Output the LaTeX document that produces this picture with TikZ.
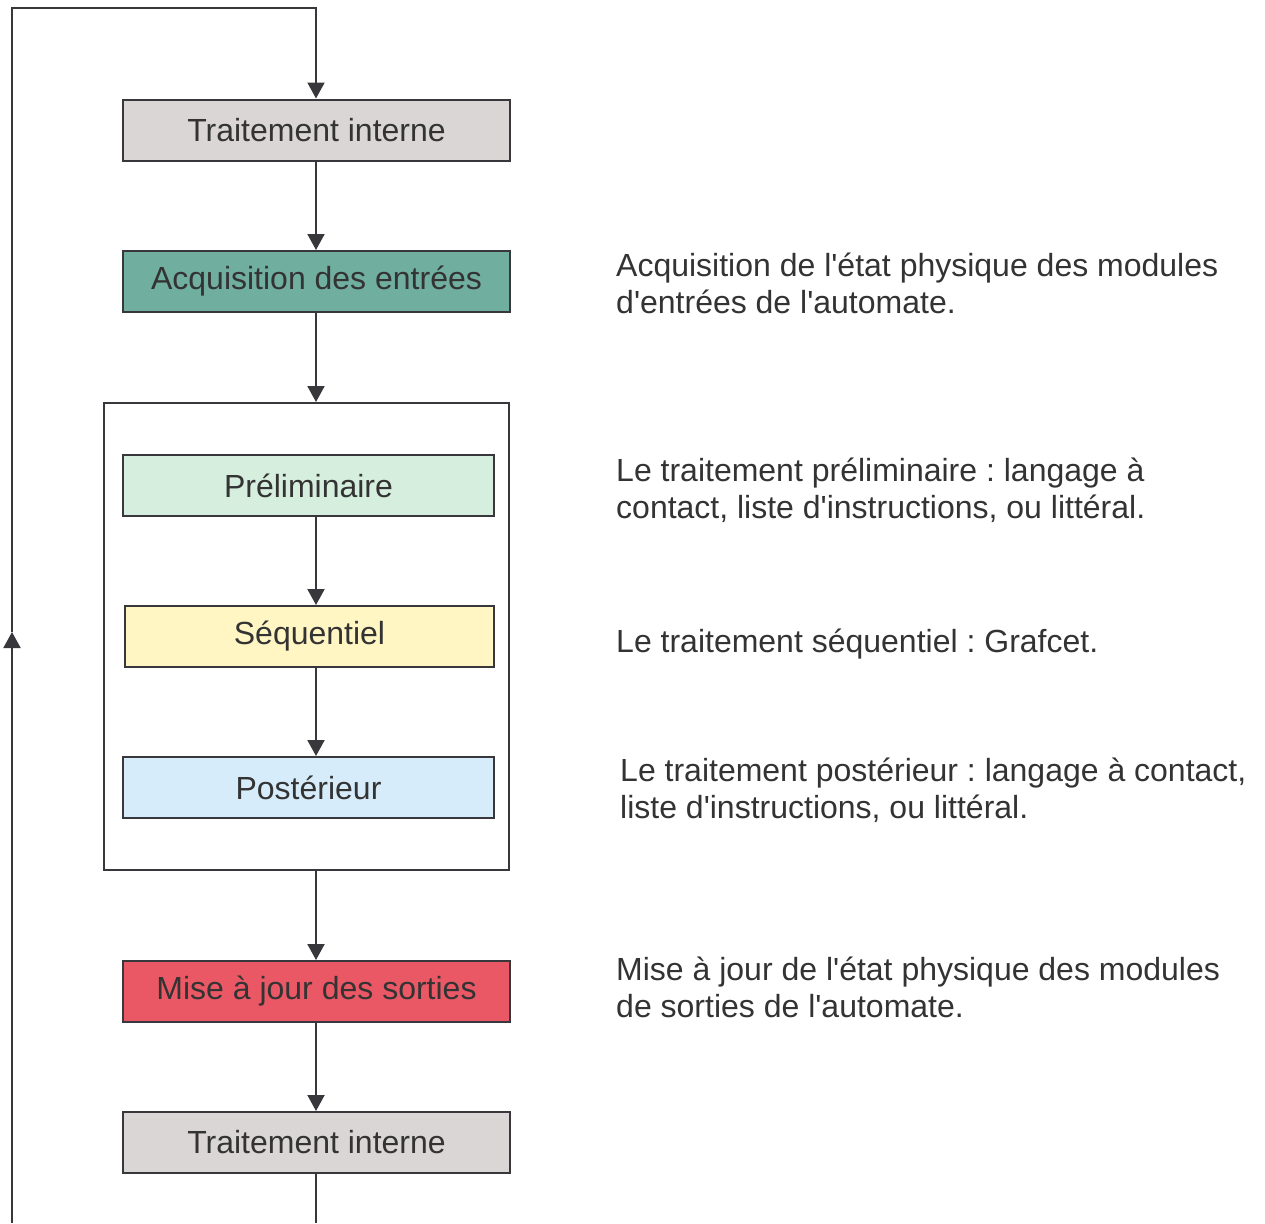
\documentclass[tikz,border=0pt]{standalone}
\usepackage{fontspec}
\setmainfont{Liberation Sans}[Ligatures=TeXOff]
\usetikzlibrary{arrows.meta}
\definecolor{txt}{HTML}{333333}
\definecolor{ln}{HTML}{38383C}
\definecolor{cgray}{HTML}{DAD6D6}
\definecolor{cteal}{HTML}{70AE9F}
\definecolor{cgreen}{HTML}{D6EEDE}
\definecolor{cyellow}{HTML}{FFF6C4}
\definecolor{cblue}{HTML}{D7ECFA}
\definecolor{cred}{HTML}{EA5866}
\tikzset{
  procbox/.style={draw=ln, line width=2pt, minimum height=61pt, inner sep=0pt,
    text=txt, font=\fontsize{32}{36}\selectfont},
  desc/.style={anchor=base west, inner sep=0pt, align=left, text=txt,
    font=\fontsize{32}{36.5}\selectfont},
  flow/.style={draw=ln, line width=2pt, -{Triangle[width=17pt,length=16pt]}},
  plain/.style={draw=ln, line width=2pt}
}
\begin{document}
\frenchspacing
\begin{tikzpicture}[x=1pt,y=-1pt]
\useasboundingbox (0,0) rectangle (1265,1223);
% boxes
\node[procbox, fill=cgray, minimum width=387pt] (ti1) at (316.5,130) {Traitement interne};
\node[procbox, fill=cteal, minimum width=387pt] (acq) at (316.5,281.5) {Acquisition des entrées};
\node[draw=ln, line width=2pt, minimum width=405pt, minimum height=467pt, inner sep=0pt] (grp) at (306.5,636.5) {};
\node[procbox, fill=cgreen, minimum width=371pt] (pre) at (308.5,485.5) {Préliminaire};
\node[procbox, fill=cyellow, minimum width=369pt] (seq) at (309.5,636.5) {Séquentiel};
\node[procbox, fill=cblue, minimum width=371pt] (post) at (308.5,787.5) {Postérieur};
\node[procbox, fill=cred, minimum width=387pt] (maj) at (316.5,991.5) {Mise à jour des sorties};
\node[procbox, fill=cgray, minimum width=387pt] (ti2) at (316.5,1142.5) {Traitement interne};
% coordinates
\coordinate (b1) at (316,1223);
\coordinate (b2) at (12,1223);
\coordinate (lmid) at (12,632);
\coordinate (tl) at (12,8);
\coordinate (tr) at (316,8);
% connectors
\draw[flow] (ti1.south -| 316,0) -- (acq.north -| 316,0);
\draw[flow] (acq.south -| 316,0) -- (grp.north -| 316,0);
\draw[flow] (pre.south -| 316,0) -- (seq.north -| 316,0);
\draw[flow] (seq.south -| 316,0) -- (post.north -| 316,0);
\draw[flow] (grp.south -| 316,0) -- (maj.north -| 316,0);
\draw[flow] (maj.south -| 316,0) -- (ti2.north -| 316,0);
\draw[plain] (ti2.south -| 316,0) -- (b1);
\draw[flow] (b2) -- (lmid);
\draw[flow] (lmid) -- (tl) -- (tr) -- (ti1.north -| 316,0);
% descriptions
\node[desc] (d1) at (616,313) {Acquisition de l'état physique des modules\\d'entrées de l'automate.};
\node[desc] (d2) at (616,518) {Le traitement préliminaire : langage à\\contact, liste d'instructions, ou littéral.};
\node[desc] (d3) at (616,652) {Le traitement séquentiel : Grafcet.};
\node[desc] (d4) at (620,818) {Le traitement postérieur : langage à contact,\\liste d'instructions, ou littéral.};
\node[desc] (d5) at (616,1017) {Mise à jour de l'état physique des modules\\de sorties de l'automate.};
\end{tikzpicture}
\end{document}
